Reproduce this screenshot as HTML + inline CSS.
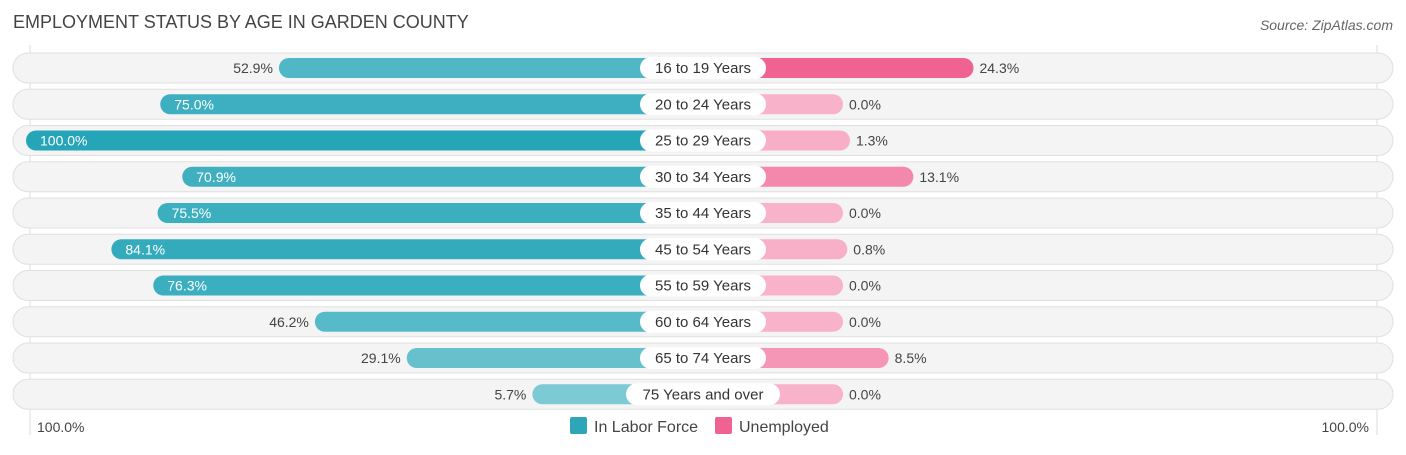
<!DOCTYPE html>
<html><head><meta charset="utf-8"><style>
body{margin:0;width:1406px;height:450px;background:#fff;font-family:"Liberation Sans",sans-serif;overflow:hidden}
svg text{font-family:"Liberation Sans",sans-serif}
</style></head><body>
<svg id="c" width="1406" height="450">
<text x="13" y="28" font-size="18" fill="#444">EMPLOYMENT STATUS BY AGE IN GARDEN COUNTY</text>
<text x="1393" y="30" font-size="14" fill="#666" text-anchor="end" font-style="italic">Source: ZipAtlas.com</text>
<line x1="30" y1="45" x2="30" y2="435" stroke="#ddd"/>
<line x1="1377" y1="45" x2="1377" y2="435" stroke="#ddd"/>
<g id="rows"></g>
<text x="37" y="432" font-size="14" fill="#444">100.0%</text>
<text x="1369" y="432" font-size="14" fill="#444" text-anchor="end">100.0%</text>
<rect x="570" y="417" width="17" height="17" rx="2" fill="#2ea6b8"/>
<text x="594" y="432" font-size="16" fill="#444">In Labor Force</text>
<rect x="715" y="417" width="17" height="17" rx="2" fill="#f06292"/>
<text x="739" y="432" font-size="16" fill="#444">Unemployed</text>
</svg>
<script>
const categories=["16 to 19 Years","20 to 24 Years","25 to 29 Years","30 to 34 Years","35 to 44 Years","45 to 54 Years","55 to 59 Years","60 to 64 Years","65 to 74 Years","75 Years and over"];
const laborForce=[52.9,75.0,100.0,70.9,75.5,84.1,76.3,46.2,29.1,5.7];
const unemployed=[24.3,0.0,1.3,13.1,0.0,0.8,0.0,0.0,8.5,0.0];
const NS="http://www.w3.org/2000/svg";
const cx=703,off=140,k=5.37,y0=68,dy=36.25;
function len(v){return off+v*k;}
function mix(a,b,t){return "rgb("+a.map((x,i)=>Math.round(x+(b[i]-x)*t)).join(",")+")";}
function mk(tag,attrs,parent){const e=document.createElementNS(NS,tag);for(const a in attrs)e.setAttribute(a,attrs[a]);parent.appendChild(e);return e;}
const g=document.getElementById("rows");
categories.forEach((c,i)=>{
  const y=y0+i*dy;
  const bg=mk("rect",{x:13,y:y-15,width:1380,height:30,rx:15,fill:"#f4f4f4",stroke:"#e0e0e0"},g);
  
  
  const lv=laborForce[i],uv=unemployed[i];
  const lw=len(lv);
  const lb=mk("rect",{x:cx-lw,y:y-10,width:lw,height:20,rx:10,fill:mix([128,204,214],[38,165,184],lv/100)},g);
  
  
  const uw=len(uv);
  const ub=mk("rect",{x:cx,y:y-10,width:uw,height:20,rx:10,fill:mix([248,178,202],[240,98,146],Math.min(uv/24.3,1))},g);
  
  
  let lt;
  if(lv>=60){lt=mk("text",{x:cx-lw+14,y:y+5,"font-size":14,fill:"#fff"},g);}
  else{lt=mk("text",{x:cx-lw-6,y:y+5,"font-size":14,fill:"#444","text-anchor":"end"},g);}
  lt.textContent=lv.toFixed(1)+"%";
  
  
  const ut=mk("text",{x:cx+uw+6,y:y+5,"font-size":14,fill:"#444"},g);
  ut.textContent=uv.toFixed(1)+"%";
  
  
  const pw=c.length>14?154:126;
  const pill=mk("rect",{x:cx-pw/2,y:y-11,width:pw,height:22,rx:11,fill:"#fff"},g);
  
  
  const ct=mk("text",{x:cx,y:y+5,"font-size":15,fill:"#333","text-anchor":"middle"},g);
  ct.textContent=c;
  
  
});
</script>
</body></html>
